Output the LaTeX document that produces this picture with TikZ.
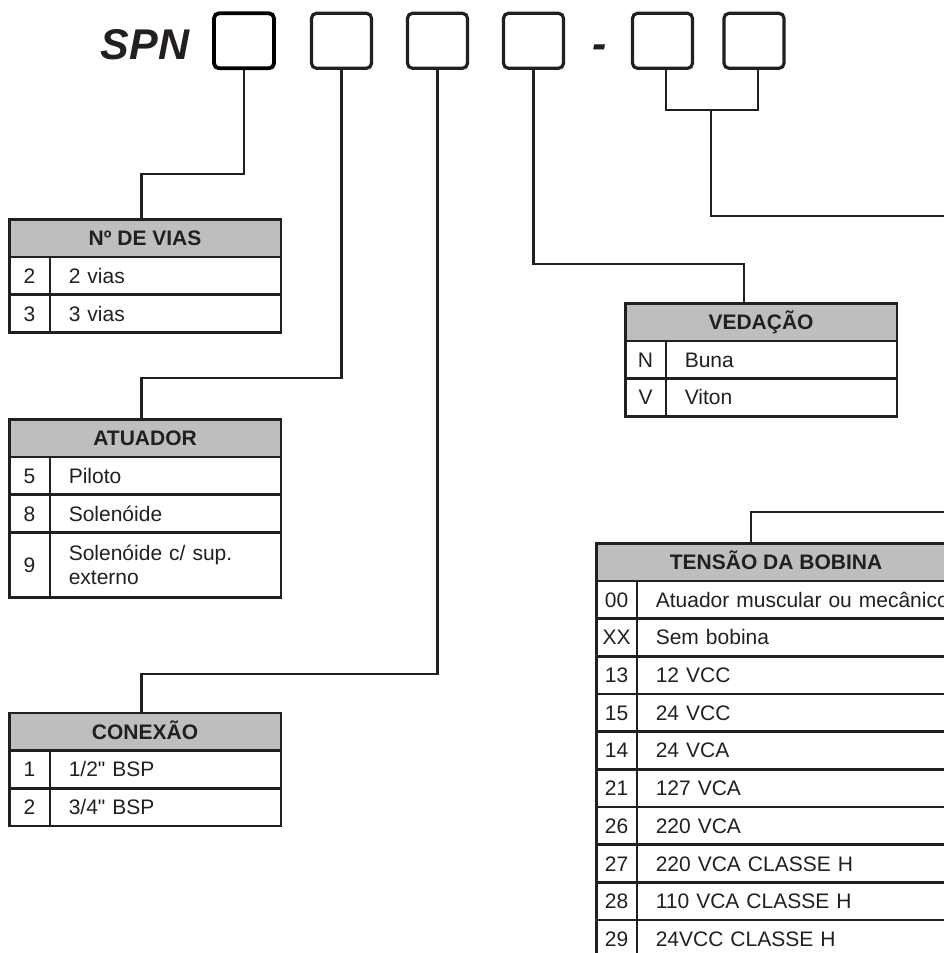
\documentclass[tikz,border=0pt]{standalone}
\usepackage{fontspec}
\setmainfont{Liberation Sans}[Ligatures=TeXOff]
\definecolor{ln}{HTML}{231F20}
\definecolor{hdrgray}{HTML}{BCBEC0}
\tikzset{
  codebox/.style={draw=ln, line width=3.2pt, rounded corners=5pt, minimum width=60pt, minimum height=55pt, inner sep=0pt},
  codetxt/.style={anchor=base, inner sep=0pt, text=ln, font=\bfseries\itshape\fontsize{43}{43}\selectfont},
  conn/.style={draw=ln, line width=2.2pt},
  hdr/.style={draw=ln, fill=hdrgray, line width=2.6pt, anchor=north west, inner sep=0pt, outer sep=0pt,
    minimum height=37.5pt, text=ln, text height=15.5pt, text depth=0.5pt, font=\bfseries\fontsize{21}{24}\selectfont},
  keyc/.style={draw=ln, line width=2.6pt, anchor=north west, inner sep=0pt, outer sep=0pt,
    minimum width=40.5pt, minimum height=37.7pt, text=ln, text height=15.5pt, text depth=0.5pt, font=\fontsize{21}{24}\selectfont},
  valc/.style={draw=ln, line width=2.6pt, anchor=north west, inner ysep=0pt, inner xsep=19pt, outer sep=0pt,
    minimum height=37.7pt, text width=#1, align=left, text=ln, text height=15.5pt, text depth=0.5pt, font=\fontsize{21}{24}\selectfont},
}
\newcommand\trow[5]{%
  \node[keyc] (#2k) at (#1.south west) {#3};
  \node[valc=#5] (#2v) at (#2k.north east) {#4};}
\begin{document}
\begin{tikzpicture}[x=1pt,y=-1pt]
\useasboundingbox (0,0) rectangle (944,953);
\clip (0,0) rectangle (944,953);
% code line
\node[codetxt] (spn) at (145,59.5) {SPN};
\node[codebox, draw=black, line width=3.8pt] (b1) at (244,40.8) {};
\node[codebox] (b2) at (341.5,40.8) {};
\node[codebox] (b3) at (437.5,40.8) {};
\node[codebox] (b4) at (533.5,40.8) {};
\node[codetxt] (dash) at (599.5,58) {-};
\node[codebox] (b5) at (662.5,40.8) {};
\node[codebox] (b6) at (754,40.8) {};
% Nº DE VIAS
\node[hdr, minimum width=271.5pt] (t1) at (9.3,219.5) {Nº DE VIAS};
\trow{t1}{t1r1}{2}{2 vias}{193pt}
\trow{t1r1k}{t1r2}{3}{3 vias}{193pt}
% ATUADOR
\node[hdr, minimum width=271.5pt] (t2) at (9.3,419.5) {ATUADOR};
\trow{t2}{t2r1}{5}{Piloto}{193pt}
\trow{t2r1k}{t2r2}{8}{Solenóide}{193pt}
\node[keyc, minimum height=65pt] (t2r3k) at (t2r2k.south west) {9};
\node[valc=193pt, minimum height=65pt, text depth=24.5pt] (t2r3v) at (t2r3k.north east) {Solenóide c/ sup.\\externo};
% CONEXAO
\node[hdr, minimum width=271.5pt] (t3) at (9.3,713) {CONEXÃO};
\trow{t3}{t3r1}{1}{1/2" BSP}{193pt}
\trow{t3r1k}{t3r2}{2}{3/4" BSP}{193pt}
% VEDACAO
\node[hdr, minimum width=271.5pt] (t4) at (625.3,303.3) {VEDAÇÃO};
\trow{t4}{t4r1}{N}{Buna}{193pt}
\trow{t4r1k}{t4r2}{V}{Viton}{193pt}
% TENSAO DA BOBINA
\node[hdr, minimum width=359.5pt] (t5) at (596.3,543.3) {TENSÃO DA BOBINA};
\trow{t5}{t5r1}{00}{Atuador muscular ou mecânico}{310pt}
\trow{t5r1k}{t5r2}{XX}{Sem bobina}{310pt}
\trow{t5r2k}{t5r3}{13}{12 VCC}{310pt}
\trow{t5r3k}{t5r4}{15}{24 VCC}{310pt}
\trow{t5r4k}{t5r5}{14}{24 VCA}{310pt}
\trow{t5r5k}{t5r6}{21}{127 VCA}{310pt}
\trow{t5r6k}{t5r7}{26}{220 VCA}{310pt}
\trow{t5r7k}{t5r8}{27}{220 VCA CLASSE H}{310pt}
\trow{t5r8k}{t5r9}{28}{110 VCA CLASSE H}{310pt}
\trow{t5r9k}{t5r10}{29}{24VCC CLASSE H}{310pt}
% connectors
\coordinate (c1) at (141.5,174);
\coordinate (c2) at (141.5,378);
\coordinate (c3) at (141.5,674);
\coordinate (c4) at (744,264);
\coordinate (j56) at (711,110);
\coordinate (c5a) at (711,216);
\coordinate (c5b) at (975,216);
\coordinate (c5c) at (975,512);
\coordinate (c5d) at (751,512);
\draw[conn] (b1.south) |- (c1) -- (c1 |- t1.north);
\draw[conn] (b2.south) |- (c2) -- (c2 |- t2.north);
\draw[conn] (b3.south) |- (c3) -- (c3 |- t3.north);
\draw[conn] (b4.south) |- (c4) -- (c4 |- t4.north);
\draw[conn] ([xshift=3.5pt]b5.south) |- (j56) -| ([xshift=4pt]b6.south);
\draw[conn] (j56) -- (c5a) -- (c5b) -- (c5c) -- (c5d) -- (c5d |- t5.north);
\end{tikzpicture}
\end{document}
